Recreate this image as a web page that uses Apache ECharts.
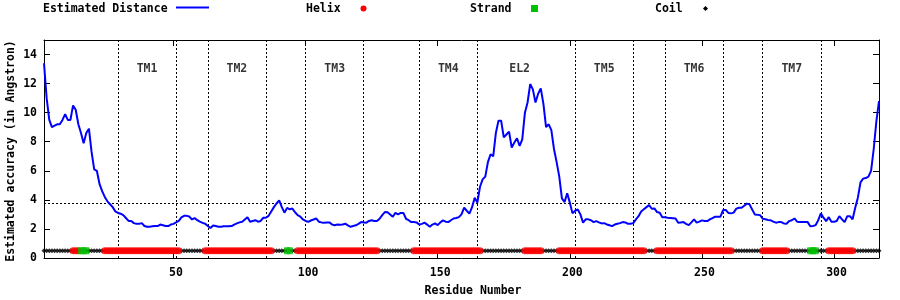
<!DOCTYPE html>
<html><head><meta charset="utf-8">
<script src="https://cdn.jsdelivr.net/npm/echarts@6/dist/echarts.min.js"></script>
<style>html,body{margin:0;padding:0;background:#fff}#c{width:900px;height:300px}</style>
</head><body><div id="c"></div>
<script>
// Estimated distance per residue (residues 1..317)
const distance = [
13.4,11.0,9.5,9.0,9.1,9.2,9.2,9.5,9.9,9.5,
9.5,10.5,10.2,9.2,8.6,7.9,8.6,8.9,7.3,6.1,
6.0,5.1,4.6,4.2,3.9,3.7,3.5,3.2,3.1,3.05,
2.95,2.75,2.55,2.55,2.4,2.35,2.35,2.4,2.2,2.15,
2.15,2.18,2.2,2.2,2.3,2.25,2.2,2.2,2.3,2.35,
2.45,2.55,2.8,2.9,2.9,2.85,2.65,2.75,2.6,2.5,
2.42,2.36,2.2,2.06,2.24,2.2,2.15,2.15,2.18,2.19,
2.19,2.2,2.3,2.38,2.45,2.5,2.65,2.8,2.5,2.55,
2.6,2.5,2.55,2.77,2.77,2.9,3.2,3.5,3.75,3.97,
3.5,3.12,3.45,3.35,3.4,3.15,2.95,2.85,2.65,2.55,
2.49,2.58,2.65,2.72,2.5,2.45,2.43,2.45,2.45,2.3,
2.26,2.3,2.28,2.3,2.36,2.25,2.15,2.2,2.25,2.35,
2.47,2.45,2.43,2.55,2.6,2.55,2.54,2.7,2.95,3.16,
3.15,3.0,2.84,3.1,3.0,3.1,3.1,2.7,2.6,2.47,
2.47,2.45,2.3,2.35,2.43,2.3,2.15,2.3,2.38,2.26,
2.45,2.59,2.5,2.47,2.6,2.72,2.75,2.81,3.0,3.46,
3.25,3.05,3.5,4.15,3.81,4.9,5.41,5.6,6.6,7.14,
7.0,8.6,9.45,9.45,8.3,8.5,8.7,7.6,7.94,8.24,
7.71,8.17,10.0,10.7,11.97,11.6,10.7,11.3,11.67,10.6,
9.0,9.2,8.8,7.5,6.6,5.6,4.1,3.85,4.45,3.81,
3.07,3.25,3.34,3.0,2.43,2.66,2.66,2.6,2.47,2.54,
2.45,2.38,2.4,2.31,2.25,2.19,2.3,2.36,2.4,2.47,
2.45,2.35,2.36,2.4,2.66,2.88,3.2,3.35,3.5,3.64,
3.39,3.41,3.16,3.12,2.81,2.8,2.77,2.76,2.74,2.72,
2.43,2.45,2.47,2.35,2.26,2.45,2.66,2.43,2.5,2.59,
2.55,2.54,2.66,2.75,2.84,2.84,2.84,3.3,3.3,3.1,
3.07,3.12,3.4,3.46,3.46,3.6,3.74,3.69,3.34,3.0,
2.97,2.95,2.7,2.66,2.62,2.59,2.5,2.43,2.47,2.47,
2.38,2.36,2.54,2.6,2.72,2.5,2.47,2.47,2.47,2.47,
2.19,2.2,2.26,2.6,3.07,2.77,2.54,2.81,2.5,2.5,
2.54,2.88,2.66,2.47,2.88,2.88,2.66,3.46,4.15,5.2,
5.46,5.5,5.6,6.0,7.5,9.4,10.8
];
const firstResidue = 1;
const helixRanges = [[12,14],[24,52],[62,87],[97,127],[141,166],[183,189],[196,228],[233,261],[273,282],[298,307]];
const strandRanges = [[15,17],[93,94],[291,293]];
const ssLevel = 0.5;
const boundaries = [29,51,63,85,100,122,143,165,202,224,236,258,273,295];
const threshold = 3.8;
const regionNames = ['TM1','TM2','TM3','TM4','EL2','TM5','TM6','TM7'];
const regionCenters = [40,74,111,154,181,213,247,284];
const regionLabelLevel = 13;
const xTicks = [50,100,150,200,250,300];
const yTicks = [0,2,4,6,8,10,12,14];

const FONT = '"DejaVu Sans Mono", "Liberation Mono", monospace';
const nRes = distance.length;
const lastResidue = firstResidue + nRes - 1;
const lineData = distance.map((v, i) => [firstResidue + i, v]);
function inRanges(r, ranges){ return ranges.some(([a,b]) => r >= a && r <= b); }
const coilData = [], helixData = [], strandData = [];
for (let r = firstResidue; r <= lastResidue; r++) {
  coilData.push([r, ssLevel]);
  if (inRanges(r, strandRanges)) strandData.push([r, ssLevel]);
  else if (inRanges(r, helixRanges)) helixData.push([r, ssLevel]);
}
const labelData = regionNames.map((n, i) => ({value: [regionCenters[i], regionLabelLevel], name: n}));

const chart = echarts.init(document.getElementById('c'), null, {renderer: 'canvas'});
const axisText = {color: '#000', fontFamily: FONT, fontWeight: 'bold', fontSize: 11.5};
const dotted = {color: '#000', width: 1, type: [2, 2]};
chart.setOption({
  animation: false,
  backgroundColor: '#fff',
  grid: {left: 44, right: 21, top: 40, bottom: 42, containLabel: false},
  xAxis: [
    {type: 'value', min: firstResidue, max: lastResidue, position: 'bottom',
     axisLine: {show: true, onZero: false, lineStyle: {color: '#000', width: 1}},
     axisTick: {show: true, inside: true, length: 6, customValues: xTicks, lineStyle: {color: '#000'}},
     axisLabel: Object.assign({show: true, margin: 9, padding: [0, 0, 0, 5], customValues: xTicks}, axisText),
     splitLine: {show: false}},
    {type: 'value', min: firstResidue, max: lastResidue, position: 'top',
     axisLine: {show: true, onZero: false, lineStyle: {color: '#000', width: 1}},
     axisTick: {show: true, inside: true, length: 6, customValues: xTicks, lineStyle: {color: '#000'}},
     axisLabel: {show: false}, splitLine: {show: false}}
  ],
  yAxis: [
    {type: 'value', min: 0, max: 15, position: 'left',
     axisLine: {show: true, onZero: false, lineStyle: {color: '#000', width: 1}},
     axisTick: {show: true, inside: true, length: 6, customValues: yTicks, lineStyle: {color: '#000'}},
     axisLabel: Object.assign({show: true, margin: 7, customValues: yTicks}, axisText),
     splitLine: {show: false}},
    {type: 'value', min: 0, max: 15, position: 'right',
     axisLine: {show: true, onZero: false, lineStyle: {color: '#000', width: 1}},
     axisTick: {show: true, inside: true, length: 6, customValues: yTicks, lineStyle: {color: '#000'}},
     axisLabel: {show: false}, splitLine: {show: false}}
  ],
  series: [
    {type: 'line', data: lineData, showSymbol: false, symbol: 'none', z: 5,
     lineStyle: {color: '#0000ff', width: 2}, itemStyle: {color: '#0000ff'},
     markLine: {silent: true, symbol: ['none','none'], label: {show: false},
       lineStyle: dotted, animation: false,
       data: boundaries.map(b => ({xAxis: b})).concat([{yAxis: threshold}])}},
    {type: 'scatter', data: coilData, symbol: 'diamond', symbolSize: [5, 5], z: 6,
     itemStyle: {color: '#000'}},
    {type: 'scatter', data: helixData, symbol: 'circle', symbolSize: 7, z: 7,
     itemStyle: {color: '#ff0000'}},
    {type: 'scatter', data: strandData, symbol: 'rect', symbolSize: [6, 7], z: 8,
     itemStyle: {color: '#00c000'}},
    {type: 'scatter', data: labelData, symbolSize: 0, z: 9,
     label: {show: true, position: 'inside', formatter: p => p.name,
       color: '#000', fontFamily: FONT, fontWeight: 'bold', fontSize: 11.5}}
  ],
  graphic: [
    {type: 'text', x: 43, y: 9, style: {text: 'Estimated Distance', fill: '#000', font: 'bold 11.5px ' + FONT, align: 'left', verticalAlign: 'middle'}},
    {type: 'line', shape: {x1: 176, y1: 7.5, x2: 209, y2: 7.5}, style: {stroke: '#0000ff', lineWidth: 2}},
    {type: 'text', x: 306, y: 9, style: {text: 'Helix', fill: '#000', font: 'bold 11.5px ' + FONT, align: 'left', verticalAlign: 'middle'}},
    {type: 'circle', shape: {cx: 363.5, cy: 8.5, r: 3}, style: {fill: '#ff0000'}},
    {type: 'text', x: 470, y: 9, style: {text: 'Strand', fill: '#000', font: 'bold 11.5px ' + FONT, align: 'left', verticalAlign: 'middle'}},
    {type: 'rect', shape: {x: 531, y: 5, width: 7, height: 7}, style: {fill: '#00c000'}},
    {type: 'text', x: 655, y: 9, style: {text: 'Coil', fill: '#000', font: 'bold 11.5px ' + FONT, align: 'left', verticalAlign: 'middle'}},
    {type: 'polygon', shape: {points: [[705.5, 6], [708, 8.5], [705.5, 11], [703, 8.5]]}, style: {fill: '#000'}},
    {type: 'text', x: 473, y: 291, style: {text: 'Residue Number', fill: '#000', font: 'bold 11.5px ' + FONT, align: 'center', verticalAlign: 'middle'}},
    {type: 'text', x: 11, y: 151, rotation: Math.PI / 2, style: {text: 'Estimated accuracy (in Angstron)', fill: '#000', font: 'bold 11.5px ' + FONT, align: 'center', verticalAlign: 'middle'}}
  ]
});
</script>
</body></html>
